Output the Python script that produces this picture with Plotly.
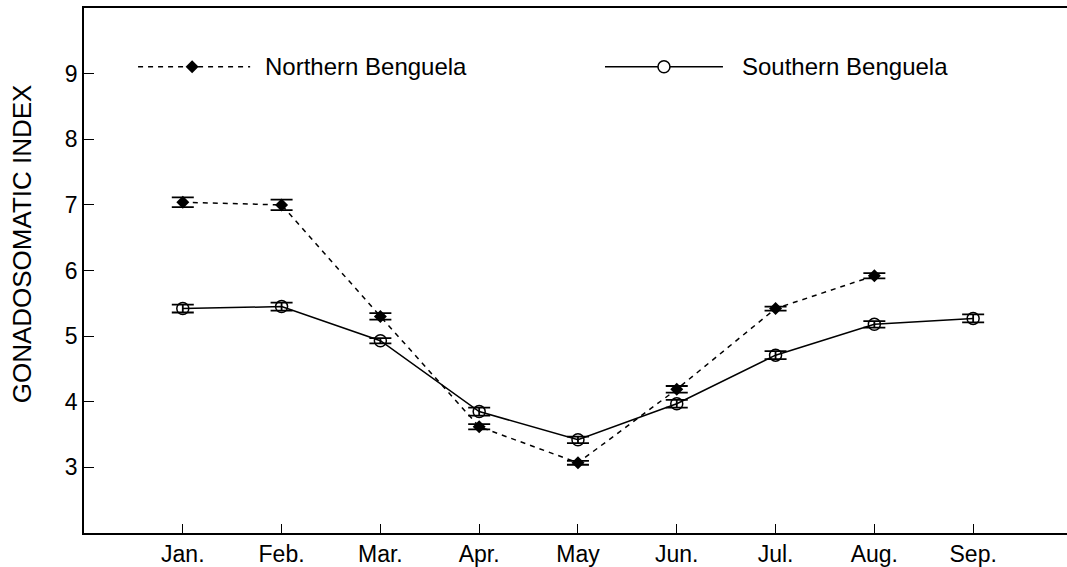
import plotly.graph_objects as go

# ---- data ----
months = ["Jan.", "Feb.", "Mar.", "Apr.", "May", "Jun.", "Jul.", "Aug.", "Sep."]
month_pos = [1, 2, 3, 4, 5, 6, 7, 8, 9]

north_pos = [1, 2, 3, 4, 5, 6, 7, 8]
north_gsi = [7.04, 7.00, 5.30, 3.62, 3.07, 4.19, 5.42, 5.92]
north_err = [0.075, 0.08, 0.05, 0.04, 0.03, 0.05, 0.03, 0.04]

south_pos = [1, 2, 3, 4, 5, 6, 7, 8, 9]
south_gsi = [5.42, 5.45, 4.93, 3.85, 3.42, 3.97, 4.71, 5.18, 5.27]
south_err = [0.06, 0.06, 0.04, 0.06, 0.05, 0.06, 0.06, 0.05, 0.06]

y_ticks = [3, 4, 5, 6, 7, 8, 9]

FONT = "Liberation Sans, Arial, sans-serif"
FS = 23

fig = go.Figure()

fig.add_trace(go.Scatter(
    x=north_pos, y=north_gsi, mode="lines+markers", name="Northern Benguela",
    line=dict(color="black", width=1.5, dash="5px,5px"),
    marker=dict(symbol="diamond", size=10, color="black"),
    error_y=dict(type="data", array=north_err, visible=True, color="black",
                 thickness=1.8, width=11),
    showlegend=False,
))
fig.add_trace(go.Scatter(
    x=south_pos, y=south_gsi, mode="lines+markers", name="Southern Benguela",
    line=dict(color="black", width=1.5),
    marker=dict(symbol="circle-open", size=12, color="black", line=dict(width=1.5)),
    error_y=dict(type="data", array=south_err, visible=True, color="black",
                 thickness=1.8, width=11),
    showlegend=False,
))

# ---- hand-drawn legend keys (layout, on an overlay axis in 0..1 units) ----
leg_y = 0.888
fig.add_trace(go.Scatter(x=[0.055, 0.169], y=[leg_y, leg_y], mode="lines",
                         line=dict(color="black", width=1.5, dash="5px,5px"),
                         xaxis="x2", yaxis="y2", showlegend=False, hoverinfo="skip"))
fig.add_trace(go.Scatter(x=[0.110], y=[leg_y], mode="markers",
                         marker=dict(symbol="diamond", size=10, color="black"),
                         xaxis="x2", yaxis="y2", showlegend=False, hoverinfo="skip"))
fig.add_trace(go.Scatter(x=[0.530, 0.650], y=[leg_y, leg_y], mode="lines",
                         line=dict(color="black", width=1.5),
                         xaxis="x2", yaxis="y2", showlegend=False, hoverinfo="skip"))
fig.add_trace(go.Scatter(x=[0.590], y=[leg_y], mode="markers",
                         marker=dict(symbol="circle", size=12, color="white",
                                     line=dict(color="black", width=1.5)),
                         xaxis="x2", yaxis="y2", showlegend=False, hoverinfo="skip"))

fig.add_annotation(x=0.182, y=leg_y, xref="x2", yref="y2", text="Northern Benguela",
                   showarrow=False, xanchor="left", yanchor="middle",
                   font=dict(family=FONT, size=24, color="black"))
fig.add_annotation(x=0.667, y=leg_y, xref="x2", yref="y2", text="Southern Benguela",
                   showarrow=False, xanchor="left", yanchor="middle",
                   font=dict(family=FONT, size=24, color="black"))

# y-axis title
fig.add_annotation(x=-0.063, y=0.55, xref="paper", yref="paper",
                   text="GONADOSOMATIC INDEX", textangle=-90, showarrow=False,
                   xanchor="center", yanchor="middle",
                   font=dict(family=FONT, size=26, color="black"))

fig.update_layout(
    width=1067, height=567,
    margin=dict(l=84, r=0, t=8, b=28),
    paper_bgcolor="white", plot_bgcolor="white",
    font=dict(family=FONT, size=FS, color="black"),
    xaxis=dict(range=[0, 9.95], tickmode="array", tickvals=month_pos, ticktext=months,
               ticks="inside", ticklen=9, tickwidth=1.2, tickcolor="black",
               showline=True, linecolor="black", linewidth=1.5, mirror=True,
               showgrid=False, zeroline=False, fixedrange=True),
    yaxis=dict(range=[2, 10], tickmode="array", tickvals=y_ticks,
               ticks="inside", ticklen=10, tickwidth=1.2, tickcolor="black",
               showline=True, linecolor="black", linewidth=1.5, mirror=False,
               showgrid=False, zeroline=False, fixedrange=True),
    xaxis2=dict(overlaying="x", range=[0, 1], visible=False, fixedrange=True),
    yaxis2=dict(overlaying="y", range=[0, 1], visible=False, fixedrange=True),
    showlegend=False,
)

fig.write_html("out.html", config={"displayModeBar": False},
               post_script="document.body.style.margin='0px';document.body.style.overflow='hidden';")
